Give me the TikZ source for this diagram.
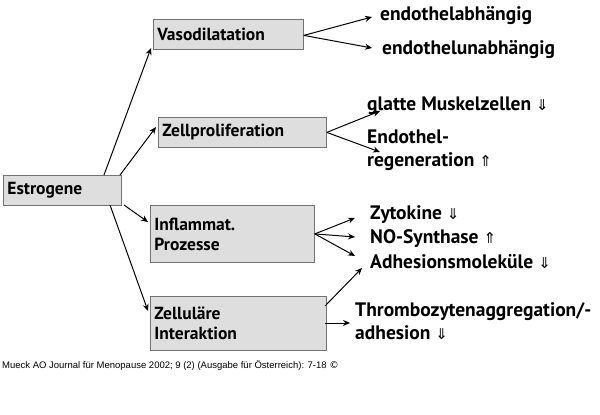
\documentclass[tikz,border=0pt]{standalone}
\usepackage{fontspec}
\setmainfont{PT Sans}
\newfontfamily\arrfont{DejaVu Sans}
\newfontfamily\boxfont{PT Sans Bold}
\usetikzlibrary{arrows.meta}
\begin{document}
\begin{tikzpicture}[x=1pt,y=-1pt,
  box/.style={draw=black!55,fill=black!13,line width=0.8pt,anchor=north west,inner sep=0pt,font=\boxfont\fontsize{17.5}{20}\selectfont,align=left},
  lbl/.style={anchor=west,inner sep=0pt,font=\boxfont\fontsize{19.5}{23}\selectfont,align=left},
  con/.style={-{Stealth[length=7pt,width=6pt]},line width=1pt}]
\useasboundingbox (0,0) rectangle (600,415);
\node[box,minimum width=117,minimum height=30,text width=110,inner xsep=4] (e) at (3,175) {Estrogene};
\node[box,minimum width=149,minimum height=30,text width=142,inner xsep=4] (v) at (153,19) {Vasodilatation};
\node[box,minimum width=167,minimum height=30,text width=160,inner xsep=4] (z) at (158,117) {Zellproliferation};
\node[box,minimum width=163,minimum height=57,text width=156,inner xsep=4] (i) at (150,205) {Inflammat.\\Prozesse};
\node[box,minimum width=175,minimum height=54,text width=168,inner xsep=4] (zi) at (150,296) {Zelluläre\\Interaktion};
\node[lbl] (t1) at (380,16) {endothelabhängig};
\node[lbl] (t2) at (382,50) {endothelunabhängig};
\node[lbl] (t3) at (367,106) {glatte Muskelzellen {\arrfont\fontsize{15}{18}\selectfont ⇓}};
\node[lbl,anchor=north west] (t4) at (367,130) {Endothel-\\regeneration {\arrfont\fontsize{15}{18}\selectfont ⇑}};
\node[lbl] (t5) at (370,215) {Zytokine {\arrfont\fontsize{15}{18}\selectfont ⇓}};
\node[lbl] (t6) at (370,239) {NO-Synthase {\arrfont\fontsize{15}{18}\selectfont ⇑}};
\node[lbl] (t7) at (370,262) {Adhesionsmoleküle {\arrfont\fontsize{15}{18}\selectfont ⇓}};
\node[lbl,anchor=north west] (t8) at (355,302) {Thrombozytenaggregation/-\\adhesion {\arrfont\fontsize{15}{18}\selectfont ⇓}};
\node[anchor=west,inner sep=0pt,font=\fontspec{Liberation Sans}\fontsize{9.5}{11}\selectfont] (cap) at (2,366) {Mueck AO Journal für Menopause 2002; 9 (2) (Ausgabe für Österreich): 7-18 {\arrfont ©}};
\coordinate (a1) at (372,17); \coordinate (a2) at (372,48);
\coordinate (b1) at (380,111); \coordinate (b2) at (380,152);
\coordinate (c1) at (355,218); \coordinate (c2) at (355,237); \coordinate (c3) at (355,256);
\coordinate (d1) at (362,268); \coordinate (d2) at (350,323);
\coordinate (s1) at (104,175); \coordinate (s2) at (120,175);
\coordinate (s3) at (124,205); \coordinate (s4) at (110,205);
\coordinate (e1) at (151,48); \coordinate (e2) at (156,127);
\coordinate (e3) at (148,222); \coordinate (e4) at (148,311);
\coordinate (zr1) at (325,306); \coordinate (zr2) at (325,323);
\draw[con] (s1) -- (e1);
\draw[con] (s2) -- (e2);
\draw[con] (s3) -- (e3);
\draw[con] (s4) -- (e4);
\draw[con] ([yshift=-1]v.east) -- (a1);
\draw[con] ([yshift=-1]v.east) -- (a2);
\draw[con] (z.east) -- (b1);
\draw[con] (z.east) -- (b2);
\draw[con] (i.east) -- (c1);
\draw[con] (i.east) -- (c2);
\draw[con] (i.east) -- (c3);
\draw[con] (zr1) -- (d1);
\draw[con] (zr2) -- (d2);
\end{tikzpicture}
\end{document}
